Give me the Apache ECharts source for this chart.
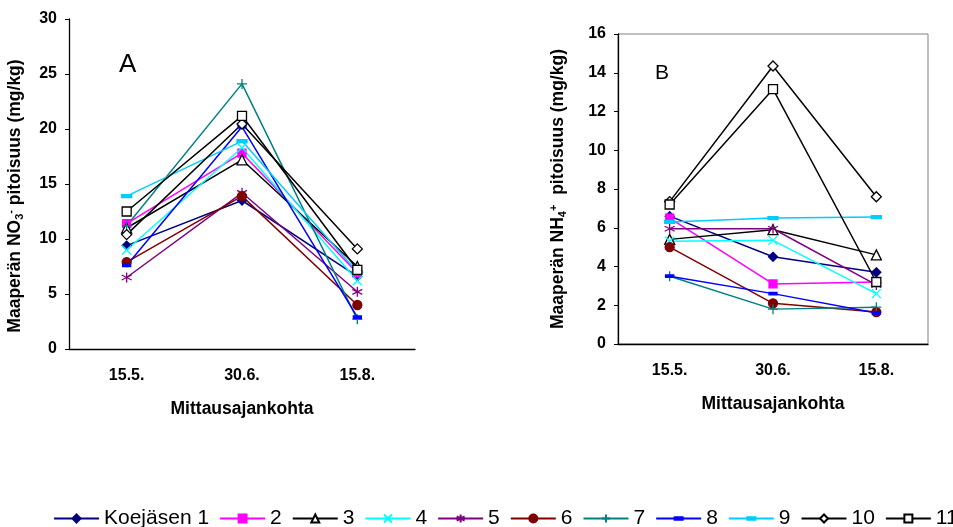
<!DOCTYPE html>
<html>
<head>
<meta charset="utf-8">
<script src="https://cdn.jsdelivr.net/npm/echarts@6/dist/echarts.min.js"></script>
<style>
  html, body { margin: 0; padding: 0; background: #fff; }
  #main { width: 953px; height: 527px; }
</style>
</head>
<body>
<div id="main"></div>
<script>
// mittausajankohdat
var categories = ['15.5.', '30.6.', '15.8.'];
var seriesNames = ['Koejäsen 1', '2', '3', '4', '5', '6', '7', '8', '9', '10', '11'];

// A: NO3 (mg/kg)
var no3_1 = [9.4, 13.5, 6.6];
var no3_2 = [11.4, 17.8, 6.9];
var no3_3 = [11.0, 17.2, 7.5];
var no3_4 = [9.0, 18.3, 6.2];
var no3_5 = [6.5, 14.2, 5.2];
var no3_6 = [7.9, 13.9, 4.0];
var no3_7 = [11.2, 24.1, 2.7];
var no3_8 = [7.6, 20.2, 2.9];
var no3_9 = [13.9, 18.9, 7.0];
var no3_10 = [10.4, 20.45, 9.1];
var no3_11 = [12.5, 21.2, 7.2];

// B: NH4 (mg/kg)
var nh4_1 = [6.6, 4.5, 3.7];
var nh4_2 = [6.5, 3.1, 3.2];
var nh4_3 = [5.4, 5.9, 4.6];
var nh4_4 = [5.3, 5.35, 2.6];
var nh4_5 = [5.95, 5.95, 3.05];
var nh4_6 = [5.0, 2.1, 1.65];
var nh4_7 = [3.5, 1.8, 1.9];
var nh4_8 = [3.5, 2.6, 1.6];
var nh4_9 = [6.3, 6.5, 6.55];
var nh4_10 = [7.35, 14.35, 7.6];
var nh4_11 = [7.2, 13.15, 3.2];

var no3Data = [no3_1, no3_2, no3_3, no3_4, no3_5, no3_6, no3_7, no3_8, no3_9, no3_10, no3_11];
var nh4Data = [nh4_1, nh4_2, nh4_3, nh4_4, nh4_5, nh4_6, nh4_7, nh4_8, nh4_9, nh4_10, nh4_11];

var FONT = '"Liberation Sans", Arial, sans-serif';

// viiva-merkki (neliön sisällä, jotta selitteessäkin pysyy matalana)
var DASH = 'path://M0,0M10,10M0,3.5H10V6.5H0Z';

// merkit: väri, täyttö, symboli, koko
var styles = [
  {c: '#000080', fill: '#000080', sym: 'diamond', size: 9},
  {c: '#ff00ff', fill: '#ff00ff', sym: 'rect', size: 8},
  {c: '#000000', fill: '#ffffff', sym: 'triangle', size: 10},
  {c: '#00ffff', fill: '#00ffff', sym: 'path://M0,0L10,10M10,0L0,10', size: 9},
  {c: '#800080', fill: '#800080', sym: 'path://M5,0L5,10M0.7,2.5L9.3,7.5M0.7,7.5L9.3,2.5', size: 10},
  {c: '#800000', fill: '#800000', sym: 'circle', size: 9},
  {c: '#008080', fill: '#008080', sym: 'path://M5,0L5,10M0,5L10,5', size: 10},
  {c: '#0000ff', fill: '#0000ff', sym: DASH, size: 8},
  {c: '#00ccff', fill: '#00ccff', sym: DASH, size: 10},
  {c: '#000000', fill: '#ffffff', sym: 'diamond', size: 10},
  {c: '#000000', fill: '#ffffff', sym: 'rect', size: 9}
];

function makeSeries(dataSets, idx) {
  return dataSets.map(function (d, i) {
    var s = styles[i];
    return {
      name: seriesNames[i],
      type: 'line',
      xAxisIndex: idx,
      yAxisIndex: idx,
      data: d,
      symbol: s.sym,
      symbolSize: s.size,
      showAllSymbol: true,
      lineStyle: {color: s.c, width: 1.5},
      itemStyle: {color: s.fill, borderColor: s.c, borderWidth: 1.3},
      emphasis: {disabled: true}
    };
  });
}

var axisLabelStyle = {fontFamily: FONT, fontWeight: 'bold', fontSize: 16, color: '#000'};
var axisNameStyle = {fontFamily: FONT, fontWeight: 'bold', fontSize: 17.5, color: '#000'};
var richSubSup = {
  sub: {fontFamily: FONT, fontWeight: 'bold', fontSize: 11, verticalAlign: 'bottom', lineHeight: 20},
  sup: {fontFamily: FONT, fontWeight: 'bold', fontSize: 11, verticalAlign: 'top', lineHeight: 20}
};

var chart = echarts.init(document.getElementById('main'));
var option = {
  animation: false,
  backgroundColor: '#fff',
  title: [
    {text: 'A', left: 119, top: 52, padding: 0,
     textStyle: {fontFamily: FONT, fontSize: 26, fontWeight: 'normal', color: '#000'}},
    {text: 'B', left: 655, top: 63, padding: 0,
     textStyle: {fontFamily: FONT, fontSize: 21, fontWeight: 'normal', color: '#000'}}
  ],
  legend: {
    left: 53,
    top: 508,
    width: 1100,
    padding: 0,
    itemWidth: 45,
    itemHeight: 10,
    itemGap: 10,
    data: seriesNames,
    textStyle: {fontFamily: FONT, fontSize: 21, color: '#000'}
  },
  grid: [
    {left: 69, right: 538, top: 19, bottom: 178},
    {left: 618, right: 25, top: 34, bottom: 183, show: true,
     borderColor: '#808080', borderWidth: 1, backgroundColor: 'transparent'}
  ],
  xAxis: [0, 1].map(function (i) {
    return {
      type: 'category',
      gridIndex: i,
      data: categories,
      name: 'Mittausajankohta',
      nameLocation: 'middle',
      nameGap: 51,
      nameTextStyle: axisNameStyle,
      axisLine: {lineStyle: {color: '#000', width: 1.3}},
      axisTick: {length: 4, lineStyle: {color: '#000'}},
      axisLabel: Object.assign({margin: 19}, axisLabelStyle)
    };
  }),
  yAxis: [
    {
      type: 'value', gridIndex: 0, min: 0, max: 30, interval: 5,
      name: 'Maaperän NO{sub|3}{sup|-} pitoisuus (mg/kg)',
      nameLocation: 'middle', nameGap: 44,
      nameTextStyle: Object.assign({padding: [0, 24, 0, 0], lineHeight: 20, rich: richSubSup}, axisNameStyle),
      splitLine: {show: false},
      axisLine: {show: true, lineStyle: {color: '#000', width: 1.3}},
      axisTick: {show: true, length: 4, lineStyle: {color: '#000'}},
      axisLabel: Object.assign({margin: 12}, axisLabelStyle)
    },
    {
      type: 'value', gridIndex: 1, min: 0, max: 16, interval: 2,
      name: 'Maaperän NH{sub|4}{sup|+}  pitoisuus (mg/kg)',
      nameLocation: 'middle', nameGap: 50,
      nameTextStyle: Object.assign({lineHeight: 20, rich: richSubSup}, axisNameStyle),
      splitLine: {show: false},
      axisLine: {show: true, lineStyle: {color: '#000', width: 1.3}},
      axisTick: {show: true, length: 4, lineStyle: {color: '#000'}},
      axisLabel: Object.assign({margin: 12}, axisLabelStyle)
    }
  ],
  series: makeSeries(no3Data, 0).concat(makeSeries(nh4Data, 1))
};
chart.setOption(option);
</script>
</body>
</html>
